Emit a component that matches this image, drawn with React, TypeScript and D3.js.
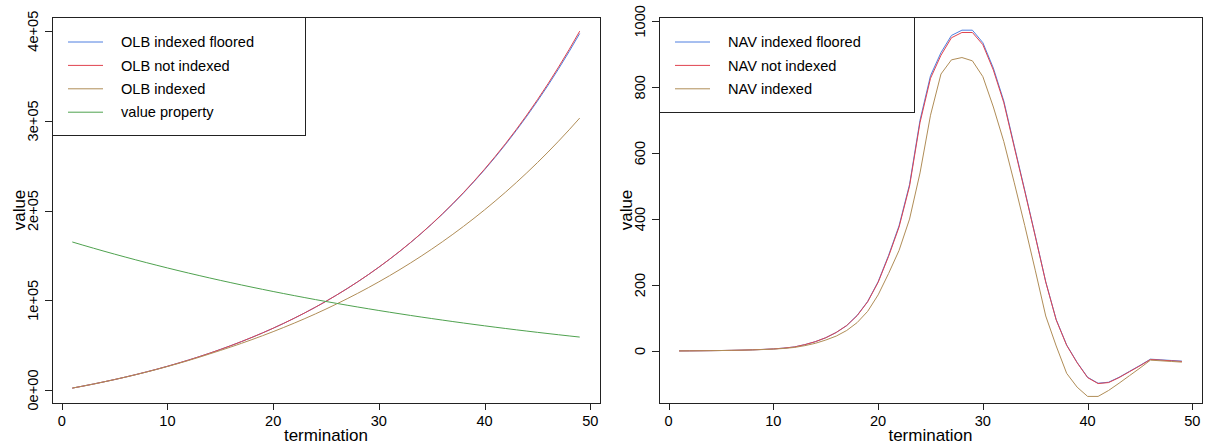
import React from "react";
import * as d3 from "d3";

// ---------- data ----------
const terminations = d3.range(1, 50);

const olbIndexedFloored = [2117,4336,6663,9103,11661,14343,17154,20102,23192,26433,29830,33392,37126,41042,45146,49450,53962,58693,63653,68853,74305,80021,86014,92298,98886,105792,113034,120600,128550,136870,145600,154740,164320,174370,184890,195910,207460,219560,232230,245510,259430,274000,289290,305270,322040,339580,357980,377230,397430];
const olbNotIndexed = [2117,4336,6663,9103,11661,14343,17154,20102,23192,26433,29830,33392,37126,41042,45146,49450,53962,58693,63653,68853,74305,80021,86014,92298,98886,105792,113034,120626,128586,136931,145681,154855,164473,174557,185129,196213,207835,220019,232794,246187,260230,274952,290387,306570,323537,341327,359977,379531,400033];
const olbIndexed = [2110,4320,6640,9070,11610,14270,17050,19960,23000,26170,29470,32900,36500,40250,44057,47950,51989,56180,60528,65038,69718,74573,79610,84836,90258,95883,101719,107773,114055,120572,127334,134349,141627,149177,157011,165138,173570,182318,191394,200811,210580,220716,231231,242141,253459,265203,277385,290025,303139];
const valueProperty = [165000,161500,158080,154730,151450,148240,145090,142020,139010,136060,133170,130350,127590,124880,122230,119640,117110,114620,112190,109810,107490,105210,102980,100790,98660,96570,94520,92510,90550,88630,86750,84910,83110,81350,79630,77940,76290,74670,73090,71540,70020,68540,67080,65660,64270,62910,61570,60270,58990];

const navIndexedFloored = [0,0.2,0.5,0.8,1.2,1.7,2.4,3.3,4.5,6,8.5,12,19,28,40,56,77,108,150,210,290,380,505,700,835,905,957,973,973,935,858,758,622,487,350,210,95,18,-35,-80,-98,-95,-80,-62,-44,-25,-27,-29,-31];
const navNotIndexed = [0,0.2,0.5,0.8,1.2,1.7,2.4,3.3,4.5,6,8.5,12,19,28,40,56,77,107,149,208,287,376,500,693,827,897,950,966,966,929,852,753,618,484,348,209,94,17,-36,-81,-99,-96,-81,-63,-45,-26,-28,-30,-32];
const navIndexed = [0,0.2,0.5,0.8,1.2,1.7,2.3,3.1,4.2,5.5,7.5,10.5,16,23,33,45,62,86,120,170,235,305,400,540,715,840,883,890,880,832,740,635,510,380,245,106,15,-68,-110,-138,-138,-120,-98,-75,-52,-28,-30,-32,-34];

const xTicks = [0, 10, 20, 30, 40, 50];
const leftYTicks = [0, 100000, 200000, 300000, 400000];
const leftYTickLabels = ["0e+00", "1e+05", "2e+05", "3e+05", "4e+05"];
const rightYTicks = [0, 200, 400, 600, 800, 1000];
const rightYTickLabels = ["0", "200", "400", "600", "800", "1000"];

const leftLabels = ["OLB indexed floored", "OLB not indexed", "OLB indexed", "value property"];
const rightLabels = ["NAV indexed floored", "NAV not indexed", "NAV indexed"];
const colors = ["#4f7fe0", "#e0434f", "#b08d57", "#4fa24f"];

const FONT = "'Liberation Sans', Arial, Helvetica, sans-serif";

type PanelProps = {
  left: number; right: number; top: number; bottom: number;
  yDomain: [number, number];
  yTicks: number[]; yTickLabels: string[];
  series: number[][];
  labels: string[];
  legendRight: number; legendBottom: number;
};

function Panel(p: PanelProps) {
  const x = d3.scaleLinear().domain([-0.92, 50.92]).range([p.left, p.right]);
  const y = d3.scaleLinear().domain(p.yDomain).range([p.bottom, p.top]);
  const line = d3.line<number>().x((_, i) => x(terminations[i])).y((d) => y(d));
  const fs = 14.6;
  const legendLeft = p.left;
  const lineX0 = legendLeft + 16;
  const lineX1 = legendLeft + 51;
  const textX = legendLeft + 69;
  return (
    <g fontFamily={FONT}>
      {p.series.map((s, i) => (
        <path key={i} d={line(s) || ""} fill="none" stroke={colors[i]} strokeWidth={1} />
      ))}
      <rect x={legendLeft + 0.5} y={p.top + 0.5} width={p.legendRight - legendLeft} height={p.legendBottom - p.top}
        fill="white" stroke="#222" strokeWidth={1} />
      {p.labels.map((l, i) => {
        const yy = p.top + 25 + i * 23.4;
        return (
          <g key={l}>
            <line x1={lineX0} x2={lineX1} y1={yy} y2={yy} stroke={colors[i]} strokeWidth={1} />
            <text x={textX} y={yy} dy="0.35em" fontSize={fs} fill="#000">{l}</text>
          </g>
        );
      })}
      <rect x={p.left + 0.5} y={p.top + 0.5} width={p.right - p.left} height={p.bottom - p.top}
        fill="none" stroke="#222" strokeWidth={1} />
      {xTicks.map((t) => (
        <g key={t}>
          <line x1={Math.round(x(t)) + 0.5} x2={Math.round(x(t)) + 0.5} y1={p.bottom} y2={p.bottom + 7} stroke="#222" />
          <text x={x(t)} y={p.bottom + 23} textAnchor="middle" fontSize={fs} fill="#000">{t}</text>
        </g>
      ))}
      <text x={(p.left + p.right) / 2} y={p.bottom + 38} textAnchor="middle" fontSize={17} fill="#000">termination</text>
      {p.yTicks.map((t, i) => (
        <g key={t}>
          <line x1={p.left - 7} x2={p.left} y1={Math.round(y(t)) + 0.5} y2={Math.round(y(t)) + 0.5} stroke="#222" />
          <text transform={`translate(${p.left - 14},${y(t)}) rotate(-90)`} textAnchor="middle" fontSize={fs} fill="#000">{p.yTickLabels[i]}</text>
        </g>
      ))}
      <text transform={`translate(${p.left - 27},${(p.top + p.bottom) / 2}) rotate(-90)`} textAnchor="middle" fontSize={17} fill="#000">value</text>
    </g>
  );
}

export default function App() {
  return (
    <svg width={1206} height={446} style={{ position: "absolute", left: 0, top: 0, background: "white" }}>
      <rect width={1206} height={446} fill="white" />
      <Panel left={52} right={600} top={17} bottom={403}
        yDomain={[-14500, 415800]} yTicks={leftYTicks} yTickLabels={leftYTickLabels}
        series={[olbIndexedFloored, olbNotIndexed, olbIndexed, valueProperty]}
        labels={leftLabels} legendRight={305} legendBottom={135} />
      <Panel left={659} right={1202} top={17} bottom={403}
        yDomain={[-158, 1013]} yTicks={rightYTicks} yTickLabels={rightYTickLabels}
        series={[navIndexedFloored, navNotIndexed, navIndexed]}
        labels={rightLabels} legendRight={914} legendBottom={112} />
    </svg>
  );
}
